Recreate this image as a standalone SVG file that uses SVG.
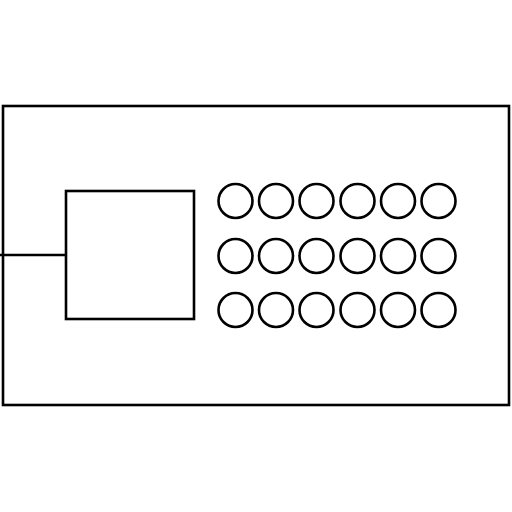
<svg xmlns="http://www.w3.org/2000/svg" width="512" height="512" viewBox="0 0 512 512">
<style>
.s{fill:none;stroke:#000;stroke-width:2.6}
</style>
<rect width="512" height="512" fill="#fff"/>
<g id="frame"><rect class="s" x="3" y="106" width="506" height="299"/></g>
<g id="connectors"><line class="s" x1="0" y1="255" x2="66" y2="255"/></g>
<g id="box"><rect class="s" x="66" y="191" width="128" height="128"/></g>
<g id="circles">
<circle class="s" cx="235.5" cy="201" r="17"/><circle class="s" cx="276" cy="201" r="17"/><circle class="s" cx="316.5" cy="201" r="17"/><circle class="s" cx="357.5" cy="201" r="17"/><circle class="s" cx="398" cy="201" r="17"/><circle class="s" cx="438.5" cy="201" r="17"/>
<circle class="s" cx="235.5" cy="256" r="17"/><circle class="s" cx="276" cy="256" r="17"/><circle class="s" cx="316.5" cy="256" r="17"/><circle class="s" cx="357.5" cy="256" r="17"/><circle class="s" cx="398" cy="256" r="17"/><circle class="s" cx="438.5" cy="256" r="17"/>
<circle class="s" cx="235.5" cy="310" r="17"/><circle class="s" cx="276" cy="310" r="17"/><circle class="s" cx="316.5" cy="310" r="17"/><circle class="s" cx="357.5" cy="310" r="17"/><circle class="s" cx="398" cy="310" r="17"/><circle class="s" cx="438.5" cy="310" r="17"/>
</g>
</svg>
